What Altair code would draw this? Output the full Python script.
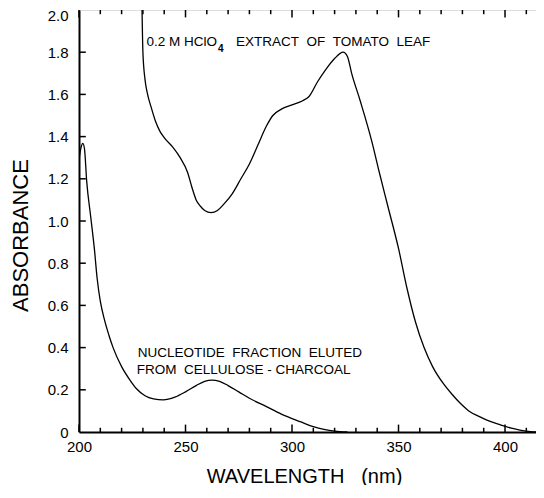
import altair as alt
import pandas as pd

# ---- data ----
tomato_nm = [229.6, 230, 231, 232, 234, 236, 238, 240, 244, 247.5, 251, 253, 255, 257, 259, 262,
             265, 268, 272, 276, 280, 284, 288, 291, 295, 300, 305, 308, 312, 316, 320, 324,
             326, 328, 332, 337.4, 341, 345, 350, 354, 358, 362, 366, 371, 375, 379, 383, 388,
             393, 398, 403, 407, 412, 418]
tomato_abs = [2.0, 1.80, 1.67, 1.61, 1.535, 1.47, 1.425, 1.395, 1.35, 1.30, 1.23, 1.16, 1.10, 1.07, 1.05, 1.04,
              1.05, 1.08, 1.13, 1.20, 1.27, 1.36, 1.45, 1.50, 1.53, 1.55, 1.57, 1.59, 1.66, 1.72, 1.77, 1.80,
              1.78, 1.70, 1.57, 1.38, 1.23, 1.07, 0.87, 0.68, 0.52, 0.40, 0.31, 0.23, 0.18, 0.136, 0.10, 0.073,
              0.05, 0.033, 0.018, 0.009, 0.002, 0.0]

nucl_nm = [200, 201, 201.8, 202.6, 203.6, 205.5, 207.2, 208.5, 210, 212, 214, 216, 220, 224, 227, 231, 235, 239.6,
           245, 250, 255, 259, 262.3, 266, 270, 275, 280, 288, 295, 303.8, 310, 315, 320, 326]
nucl_abs = [1.29, 1.35, 1.368, 1.34, 1.19, 1.02, 0.87, 0.73, 0.62, 0.53, 0.46, 0.40, 0.31, 0.245, 0.205, 0.172, 0.157, 0.152,
            0.165, 0.19, 0.22, 0.24, 0.246, 0.24, 0.22, 0.19, 0.16, 0.12, 0.085, 0.049, 0.025, 0.012, 0.004, 0.0]

x_major = [200, 250, 300, 350, 400]
x_minor = list(range(200, 420, 10))
y_ticks = [0.2, 0.4, 0.6, 0.8, 1.0, 1.2, 1.4, 1.6, 1.8]

X_MIN, X_MAX = 200, 418.3
Y_MIN, Y_MAX = 0, 2.0

FONT = "Liberation Sans"

df_t = pd.DataFrame({"nm": tomato_nm, "abs": tomato_abs})
df_n = pd.DataFrame({"nm": nucl_nm, "abs": nucl_abs})

xs = alt.Scale(domain=[X_MIN, X_MAX], nice=False, zero=False)
ys = alt.Scale(domain=[Y_MIN, Y_MAX], nice=False)

x_axis = alt.Axis(values=x_major, grid=False, ticks=False, domainWidth=2, domainColor="black",
                  labelFlush=False, labelFontSize=15, labelPadding=7, labelColor="black", labelFont=FONT,
                  title="WAVELENGTH\u00a0\u00a0\u00a0(nm)", titleFontSize=20, titleFontWeight="normal",
                  titleFont=FONT, titleColor="black", titleX=225, titleY=50, titleBaseline="alphabetic")
y_axis = alt.Axis(values=[0] + y_ticks + [2.0], grid=False, ticks=False, domainWidth=2, domainColor="black",
                  labelFlush=False,
                  labelExpr="datum.value == 0 ? '0' : format(datum.value, '.1f')",
                  labelOffset={"condition": {"test": "datum.value == 2", "value": 5}, "value": 0},
                  labelFontSize=15, labelPadding=11, labelColor="black", labelFont=FONT,
                  title="ABSORBANCE", titleFontSize=22, titleFontWeight="normal", titleFont=FONT,
                  titleColor="black", titleX=-47, titleY=225, titleBaseline="bottom")

line_t = alt.Chart(df_t).mark_line(color="black", strokeWidth=1.3, interpolate="monotone", clip=True).encode(
    x=alt.X("nm:Q", scale=xs, axis=x_axis),
    y=alt.Y("abs:Q", scale=ys, axis=y_axis),
)
line_n = alt.Chart(df_n).mark_line(color="black", strokeWidth=1.3, interpolate="monotone", clip=True).encode(
    x=alt.X("nm:Q", scale=xs),
    y=alt.Y("abs:Q", scale=ys),
)

# inward tick marks (lengths in data units)
minor_len = 0.02
major_len = 0.035
ticks_rows = []
for v in x_minor:
    L = major_len if v in x_major else minor_len
    ticks_rows.append({"tx": v, "ty": Y_MIN, "ty2": Y_MIN + L})
    ticks_rows.append({"tx": v, "ty": Y_MAX - L, "ty2": Y_MAX})
df_xt = pd.DataFrame(ticks_rows)
xt = alt.Chart(df_xt).mark_rule(color="black", strokeWidth=1.5).encode(
    x=alt.X("tx:Q", scale=xs), y=alt.Y("ty:Q", scale=ys), y2="ty2:Q")

ylen = 3.2
yrows = []
for v in y_ticks:
    yrows.append({"tx": X_MIN, "tx2": X_MIN + ylen, "ty": v})
    yrows.append({"tx": X_MAX - ylen, "tx2": X_MAX, "ty": v})
df_yt = pd.DataFrame(yrows)
yt = alt.Chart(df_yt).mark_rule(color="black", strokeWidth=1.5).encode(
    x=alt.X("tx:Q", scale=xs), x2="tx2:Q", y=alt.Y("ty:Q", scale=ys))

# annotations
sp = "\u00a0\u00a0"
ann = pd.DataFrame({
    "x": [231.7, 273.7, 227.6, 227.1],
    "y": [1.85, 1.85, 0.374, 0.296],
    "t": ["0.2 M HClO", "EXTRACT" + sp + "OF" + sp + "TOMATO" + sp + "LEAF",
          "NUCLEOTIDE" + sp + "FRACTION" + sp + "ELUTED",
          "FROM" + sp + "CELLULOSE\u00a0-\u00a0CHARCOAL"],
})
txt = alt.Chart(ann).mark_text(align="left", baseline="middle", fontSize=13.5, font=FONT, color="black").encode(
    x=alt.X("x:Q", scale=xs), y=alt.Y("y:Q", scale=ys), text="t:N")
sub = pd.DataFrame({"x": [265.3], "y": [1.815], "t": ["4"]})
subtxt = alt.Chart(sub).mark_text(align="left", baseline="middle", fontSize=10, font=FONT,
                                  fontWeight="bold", color="black").encode(
    x=alt.X("x:Q", scale=xs), y=alt.Y("y:Q", scale=ys), text="t:N")

chart = alt.layer(line_t, line_n, xt, yt, txt, subtxt).properties(
    width=465, height=422,
    autosize=alt.AutoSizeParams(type="none"),
    padding={"left": 71, "top": 2, "right": -8, "bottom": 53},
).configure_view(stroke="black", strokeWidth=2).configure(background="white")

chart.save("out.html", embed_options={"renderer": "svg", "actions": False})
